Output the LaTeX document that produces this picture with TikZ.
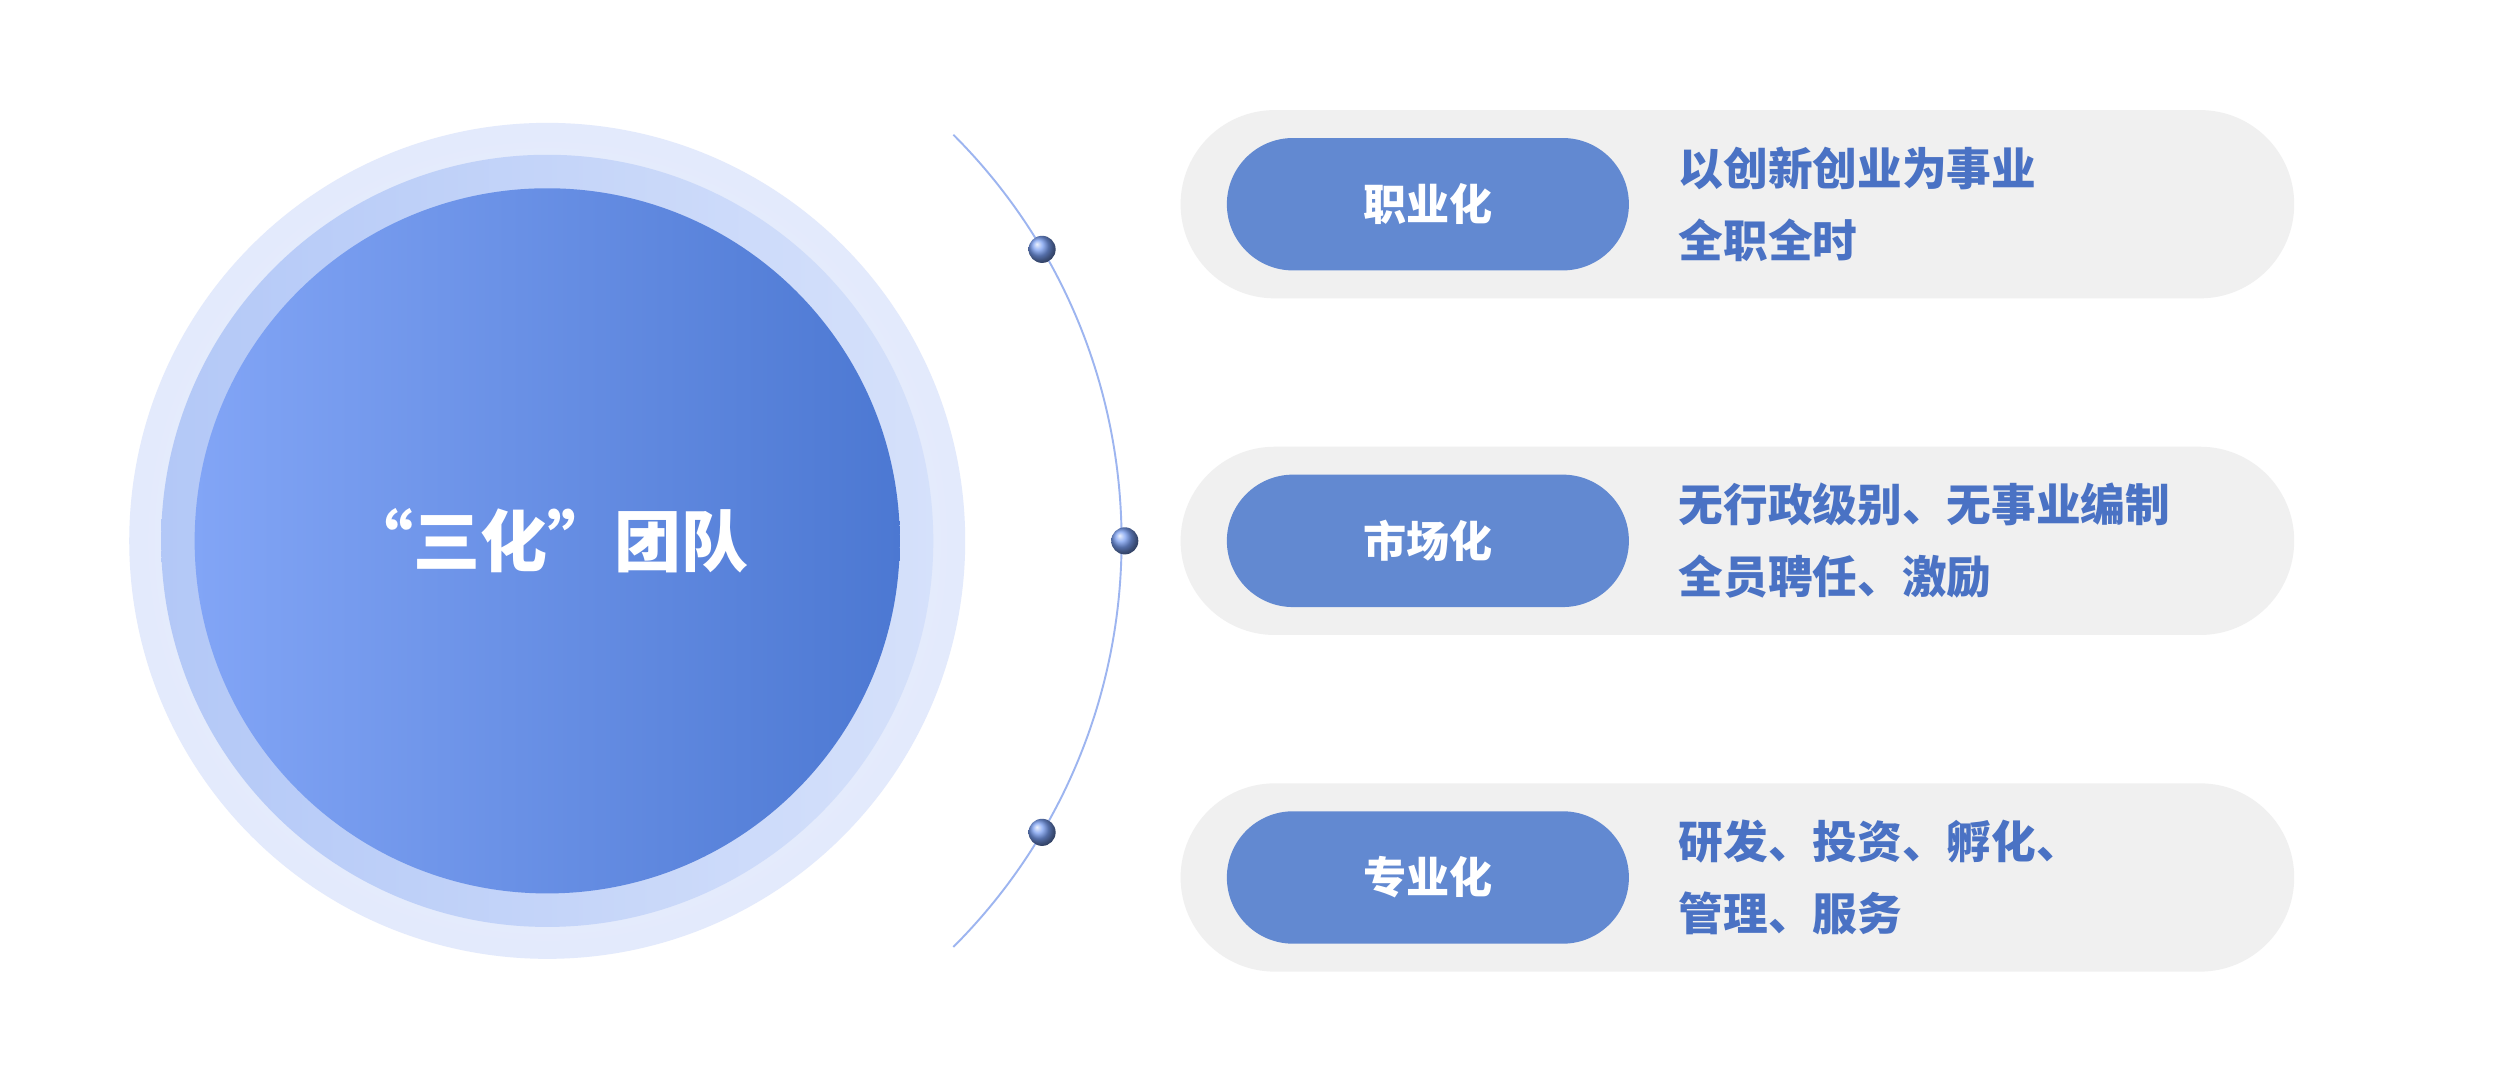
\documentclass[tikz,border=0pt]{standalone}
\usepackage{fontspec}
\newfontfamily\cjk{Noto Sans CJK SC}
\usetikzlibrary{shapes.misc,calc}
\definecolor{ring1}{HTML}{E3EAFC}
\definecolor{ring2}{HTML}{B3C8F7}
\definecolor{cA}{HTML}{82A5F6}
\definecolor{cB}{HTML}{4C78D2}
\definecolor{pillgray}{HTML}{F0F0F0}
\definecolor{pillblue}{HTML}{6289D1}
\definecolor{txtblue}{HTML}{4A72C4}
\definecolor{arcc}{HTML}{9DB5F0}
\begin{document}
\begin{tikzpicture}[x=1pt,y=-1pt,
  outer/.style={rounded rectangle,fill=pillgray,minimum width=698pt,minimum height=118pt,inner sep=0pt},
  inner/.style={rounded rectangle,fill=pillblue,minimum width=252pt,minimum height=83pt,inner sep=0pt,text=white,font=\cjk\bfseries\fontsize{27}{30}\selectfont},
  desc/.style={anchor=west,text=txtblue,align=left,font=\cjk\bfseries\fontsize{28}{45}\selectfont,inner sep=0pt},
  dot/.style={circle,minimum size=17pt,inner sep=0pt,ball color=cA!80!cB,draw=none}]
\useasboundingbox (0,0) rectangle (1567,670);
\fill[white] (0,0) rectangle (1567,670);
% circles
\node[circle,minimum size=524pt,inner sep=0pt,shade,inner color=ring1!60!white,outer color=ring1] (o1) at (343,339) {};
\node[circle,minimum size=484pt,inner sep=0pt,shade,shading angle=135,left color=ring2,right color=ring2!55!white] (o2) at (343,339) {};
\node[circle,minimum size=442pt,inner sep=0pt,shade,shading angle=135,left color=cA,right color=cB,text=white,font=\cjk\bfseries\fontsize{42}{46}\selectfont] (c) at (343,339) {“三化”团队};
% arc
\draw[arcc,line width=1.2pt] (c.center) ++(45:360) arc[start angle=45,end angle=-45,radius=360];
\node[dot] (d1) at ($(c.center)+(30.5:360)$) {};
\node[dot] (d2) at ($(c.center)+(0:362)$) {};
\node[dot] (d3) at ($(c.center)+(-30.5:360)$) {};
% rows
\foreach \n/\y/\lab/\la/\lb in {1/128/职业化/以创新创业为事业/全职全时, 2/339/市场化/无行政级别、无事业编制/全员聘任、激励, 3/550/专业化/研发、投资、孵化、/管理、服务}{
  \node[outer] (g\n) at (1089,\y) {};
  \node[inner] (b\n) at (895,\y) {\lab};
  \node[desc] (t\n) at (1052,\y) {\la\\\lb};
}
\end{tikzpicture}
\end{document}
